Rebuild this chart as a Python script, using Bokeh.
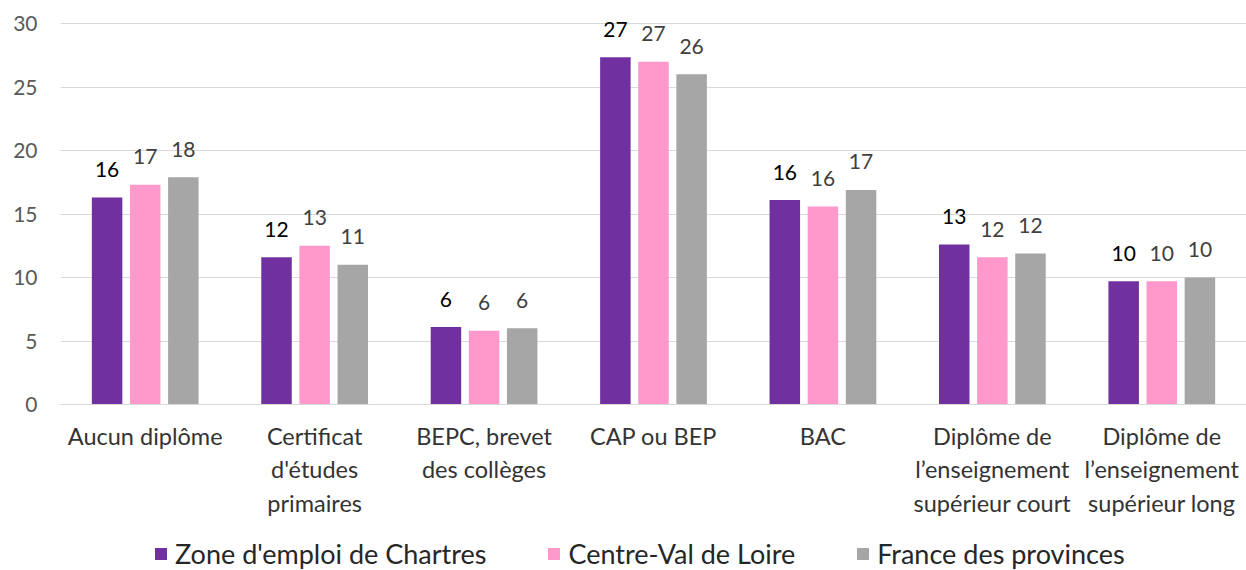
from bokeh.plotting import figure
from bokeh.layouts import column
from bokeh.models import (ColumnDataSource, FactorRange, Range1d, Legend, LegendItem,
                          FixedTicker)
from bokeh.transform import dodge
from bokeh.core.properties import value
from bokeh.embed import file_html
from bokeh.resources import INLINE

categories = [
    "Aucun diplôme",
    "Certificat\nd'études\nprimaires",
    "BEPC, brevet\ndes collèges",
    "CAP ou BEP",
    "BAC",
    "Diplôme de\nl’enseignement\nsupérieur court",
    "Diplôme de\nl’enseignement\nsupérieur long",
]
series_names = ["Zone d'emploi de Chartres", "Centre-Val de Loire", "France des provinces"]
zone_chartres = [16.3, 11.6, 6.1, 27.35, 16.1, 12.6, 9.7]
centre_val_de_loire = [17.3, 12.5, 5.8, 27.0, 15.6, 11.6, 9.7]
france_provinces = [17.9, 11.0, 6.0, 26.0, 16.9, 11.9, 10.0]
y_ticks = [0, 5, 10, 15, 20, 25, 30]

colors = ["#7030A0", "#FF99CC", "#A6A6A6"]
label_colors = ["#000000", "#404040", "#404040"]
FONT = "Lato"


def fmt(vals):
    return [str(int(v + 0.5)) for v in vals]


src = ColumnDataSource(dict(
    cat=categories,
    s0=zone_chartres, s1=centre_val_de_loire, s2=france_provinces,
    t0=fmt(zone_chartres), t1=fmt(centre_val_de_loire), t2=fmt(france_provinces),
))

p = figure(width=1246, height=519, x_range=FactorRange(*categories, range_padding=0),
           y_range=Range1d(0, 31.5), output_backend="svg", toolbar_location=None,
           min_border_left=60, min_border_right=0, min_border_top=4, min_border_bottom=0)
p.outline_line_color = None
p.xgrid.grid_line_color = None
p.ygrid.grid_line_color = "#D9D9D9"
p.ygrid.grid_line_width = 1.2

offsets = [-0.225, 0.0, 0.225]
for i, off in enumerate(offsets):
    p.vbar(x=dodge("cat", off, range=p.x_range), top="s%d" % i, width=0.18,
           source=src, fill_color=colors[i], line_color=None)
    p.text(x=dodge("cat", off, range=p.x_range), y="s%d" % i, text="t%d" % i, source=src,
           text_align="center", text_baseline="alphabetic", y_offset=-28,
           text_font=value(FONT), text_font_size="21px", text_color=label_colors[i])

yax = p.yaxis[0]
yax.ticker = FixedTicker(ticks=y_ticks)
yax.axis_line_color = None
yax.major_tick_line_color = None
yax.minor_tick_line_color = None
yax.major_label_standoff = 17
yax.major_label_text_font = FONT
yax.major_label_text_font_size = "21px"
yax.major_label_text_color = "#595959"

xax = p.xaxis[0]
xax.axis_line_color = "#D9D9D9"
xax.axis_line_width = 1.2
xax.major_tick_line_color = None
xax.minor_tick_line_color = None
xax.major_label_standoff = 11
xax.major_label_text_font = FONT
xax.major_label_text_font_size = "23.5px"
xax.major_label_text_color = "#333333"

# legend in its own strip below the chart (its frame is aligned with the chart's frame)
q = figure(width=1246, height=51, x_range=Range1d(0, 1), y_range=Range1d(0, 1),
           output_backend="svg", toolbar_location=None, x_axis_type=None, y_axis_type=None,
           min_border=0)
q.outline_line_color = None
q.xgrid.visible = False
q.ygrid.visible = False
items = []
for i, name in enumerate(series_names):
    r = q.vbar(x=[5], top=[5], width=0.1, fill_color=colors[i], line_color=None)
    items.append(LegendItem(label=name, renderers=[r]))
legend = Legend(items=items, orientation="horizontal", location=(93, 0),
                glyph_width=15, glyph_height=15, label_standoff=7, spacing=60,
                label_text_font=FONT, label_text_font_size="27px",
                label_text_color="#262626", border_line_color=None,
                background_fill_alpha=0, margin=0, padding=0)
q.add_layout(legend)

layout = column(p, q, spacing=0)
open("out.html", "w").write(file_html(layout, INLINE))
